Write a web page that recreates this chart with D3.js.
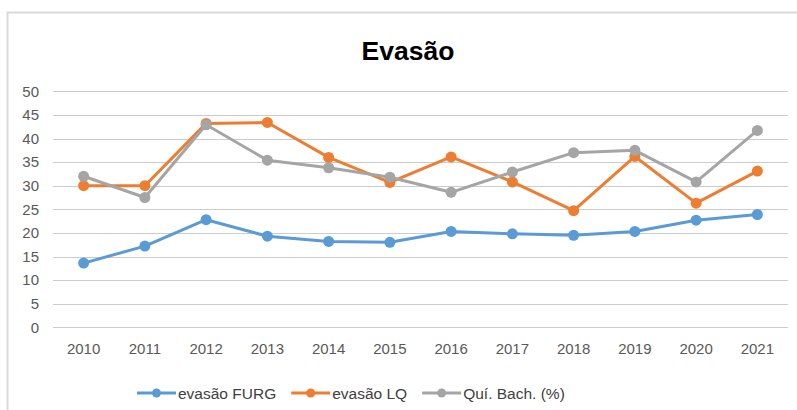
<!DOCTYPE html>
<html>
<head>
<meta charset="utf-8">
<script src="https://cdn.jsdelivr.net/npm/d3@7"></script>
<style>
  html, body { margin: 0; padding: 0; background: #ffffff; }
  svg { display: block; }
  text { font-family: "Liberation Sans", Arial, sans-serif; }
</style>
</head>
<body>
<svg id="chart" width="797" height="410"></svg>
<script>
// Years on the horizontal axis
const years = ["2010","2011","2012","2013","2014","2015","2016","2017","2018","2019","2020","2021"];

// Series values (%)
const evasaoFURG = [13.6, 17.2, 22.8, 19.3, 18.2, 18.0, 20.3, 19.8, 19.5, 20.3, 22.7, 23.9];
const evasaoLQ   = [30.0, 30.0, 43.2, 43.4, 36.0, 30.7, 36.1, 30.8, 24.7, 36.2, 26.3, 33.1];
const quiBach    = [32.0, 27.5, 42.9, 35.4, 33.8, 31.8, 28.6, 32.9, 37.0, 37.5, 30.8, 41.7];

const seriesNames  = ["evasão FURG", "evasão LQ", "Quí. Bach. (%)"];
const seriesColors = ["#5B9BD5", "#ED7D31", "#A5A5A5"];
const yTicks = [0, 5, 10, 15, 20, 25, 30, 35, 40, 45, 50];

const series = [evasaoFURG, evasaoLQ, quiBach].map((vals, i) => ({
  name: seriesNames[i],
  color: seriesColors[i],
  values: vals.map((v, j) => ({ year: years[j], value: v }))
}));

const svg = d3.select("#chart");
const W = 797, H = 410;
const plot = { left: 53, right: 788, top: 91.3, bottom: 327.3 };

// Chart frame
svg.append("rect")
  .attr("x", 7.5).attr("y", 12.5)
  .attr("width", W + 10).attr("height", H + 10)
  .attr("fill", "#ffffff")
  .attr("stroke", "#d9d9d9")
  .attr("stroke-width", 2);

// Title
svg.append("text")
  .attr("x", 408).attr("y", 60)
  .attr("text-anchor", "middle")
  .attr("font-size", 26.5)
  .attr("font-weight", "bold")
  .attr("fill", "#000000")
  .text("Evasão");

const x = d3.scaleBand().domain(years).range([plot.left, plot.right]);
const y = d3.scaleLinear().domain([0, 50]).range([plot.bottom, plot.top]);

// Horizontal gridlines
svg.append("g")
  .selectAll("line")
  .data(yTicks)
  .join("line")
  .attr("x1", plot.left).attr("x2", plot.right)
  .attr("y1", d => Math.round(y(d)) + 0.5)
  .attr("y2", d => Math.round(y(d)) + 0.5)
  .attr("stroke", "#cccccc")
  .attr("stroke-width", 1);

// Y axis labels
const yAxis = svg.append("g")
  .attr("transform", `translate(${plot.left - 14},0)`)
  .call(d3.axisLeft(y).tickValues(yTicks).tickSize(0).tickPadding(0));
yAxis.select(".domain").remove();
yAxis.selectAll("text")
  .attr("font-size", 15)
  .attr("font-family", "Liberation Sans, Arial, sans-serif")
  .attr("fill", "#595959");

// X axis labels
const xAxis = svg.append("g")
  .attr("transform", `translate(0,${plot.bottom + 16})`)
  .call(d3.axisBottom(x).tickSize(0).tickPadding(0));
xAxis.select(".domain").remove();
xAxis.selectAll("text")
  .attr("font-size", 15)
  .attr("font-family", "Liberation Sans, Arial, sans-serif")
  .attr("fill", "#595959");

const cx = d => x(d.year) + x.bandwidth() / 2;
const line = d3.line().x(cx).y(d => y(d.value));

// Lines and markers, one series after another
series.forEach(s => {
  const g = svg.append("g");
  g.append("path")
    .datum(s.values)
    .attr("d", line)
    .attr("fill", "none")
    .attr("stroke", s.color)
    .attr("stroke-width", 3)
    .attr("stroke-linejoin", "round")
    .attr("stroke-linecap", "round");
  g.selectAll("circle")
    .data(s.values)
    .join("circle")
    .attr("cx", cx)
    .attr("cy", d => y(d.value))
    .attr("r", 5.5)
    .attr("fill", s.color);
});

// Legend
const legend = svg.append("g").attr("transform", "translate(137,393)");
let lx = 0;
series.forEach(s => {
  const item = legend.append("g").attr("transform", `translate(${lx},0)`);
  item.append("line")
    .attr("x1", 0).attr("x2", 39).attr("y1", 0).attr("y2", 0)
    .attr("stroke", s.color).attr("stroke-width", 3);
  item.append("circle")
    .attr("cx", 19.5).attr("cy", 0).attr("r", 4.5)
    .attr("fill", s.color);
  const t = item.append("text")
    .attr("x", 41).attr("y", 5.5)
    .attr("font-size", 15.5)
    .attr("fill", "#404040")
    .text(s.name);
  lx += 41 + t.node().getComputedTextLength() + 15;
});
</script>
</body>
</html>
